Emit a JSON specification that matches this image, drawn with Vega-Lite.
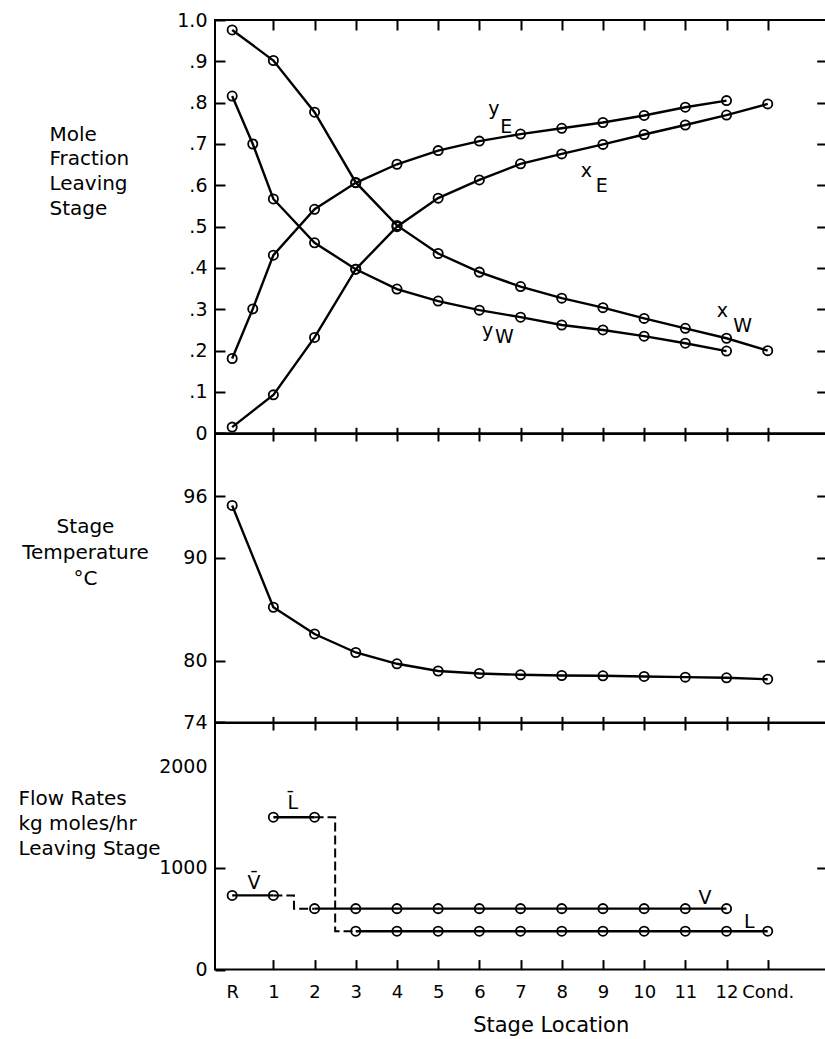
{
  "$schema": "https://vega.github.io/schema/vega-lite/v6.json",
  "background": "white",
  "padding": {"left": 17, "top": 10, "right": 0, "bottom": 0},
  "spacing": 0,
  "bounds": "flush",
  "config": {
    "font": "DejaVu Sans",
    "view": {"stroke": "black", "strokeWidth": 2},
    "axis": {"domain": false, "grid": false, "tickColor": "black", "tickWidth": 2, "labelColor": "black", "labelFont": "DejaVu Sans", "labelFontSize": 19, "labelFlush": false, "titleFont": "DejaVu Sans", "titleColor": "black", "titleFontWeight": "normal", "titleFontSize": 20},
    "line": {"color": "black", "strokeWidth": 2.4},
    "point": {"color": "black", "filled": false, "size": 85, "strokeWidth": 1.8, "opacity": 1},
    "text": {"font": "DejaVu Sans", "fontSize": 19, "color": "black"}
  },
  "datasets": {
    "mole": [
      {"series": "xW", "stage": 0, "frac": 0.976}, {"series": "xW", "stage": 1, "frac": 0.902}, {"series": "xW", "stage": 2, "frac": 0.777}, {"series": "xW", "stage": 3, "frac": 0.607}, {"series": "xW", "stage": 4, "frac": 0.503}, {"series": "xW", "stage": 5, "frac": 0.435}, {"series": "xW", "stage": 6, "frac": 0.390}, {"series": "xW", "stage": 7, "frac": 0.355}, {"series": "xW", "stage": 8, "frac": 0.327}, {"series": "xW", "stage": 9, "frac": 0.304}, {"series": "xW", "stage": 10, "frac": 0.278}, {"series": "xW", "stage": 11, "frac": 0.254}, {"series": "xW", "stage": 12, "frac": 0.230}, {"series": "xW", "stage": 13, "frac": 0.200},
      {"series": "yW", "stage": 0, "frac": 0.816}, {"series": "yW", "stage": 0.5, "frac": 0.700}, {"series": "yW", "stage": 1, "frac": 0.567}, {"series": "yW", "stage": 2, "frac": 0.461}, {"series": "yW", "stage": 3, "frac": 0.397}, {"series": "yW", "stage": 4, "frac": 0.349}, {"series": "yW", "stage": 5, "frac": 0.320}, {"series": "yW", "stage": 6, "frac": 0.298}, {"series": "yW", "stage": 7, "frac": 0.281}, {"series": "yW", "stage": 8, "frac": 0.262}, {"series": "yW", "stage": 9, "frac": 0.250}, {"series": "yW", "stage": 10, "frac": 0.235}, {"series": "yW", "stage": 11, "frac": 0.218}, {"series": "yW", "stage": 12, "frac": 0.199},
      {"series": "yE", "stage": 0, "frac": 0.181}, {"series": "yE", "stage": 0.5, "frac": 0.301}, {"series": "yE", "stage": 1, "frac": 0.431}, {"series": "yE", "stage": 2, "frac": 0.542}, {"series": "yE", "stage": 3, "frac": 0.606}, {"series": "yE", "stage": 4, "frac": 0.651}, {"series": "yE", "stage": 5, "frac": 0.684}, {"series": "yE", "stage": 6, "frac": 0.707}, {"series": "yE", "stage": 7, "frac": 0.724}, {"series": "yE", "stage": 8, "frac": 0.738}, {"series": "yE", "stage": 9, "frac": 0.752}, {"series": "yE", "stage": 10, "frac": 0.769}, {"series": "yE", "stage": 11, "frac": 0.789}, {"series": "yE", "stage": 12, "frac": 0.805},
      {"series": "xE", "stage": 0, "frac": 0.015}, {"series": "xE", "stage": 1, "frac": 0.093}, {"series": "xE", "stage": 2, "frac": 0.232}, {"series": "xE", "stage": 3, "frac": 0.397}, {"series": "xE", "stage": 4, "frac": 0.500}, {"series": "xE", "stage": 5, "frac": 0.569}, {"series": "xE", "stage": 6, "frac": 0.613}, {"series": "xE", "stage": 7, "frac": 0.652}, {"series": "xE", "stage": 8, "frac": 0.676}, {"series": "xE", "stage": 9, "frac": 0.699}, {"series": "xE", "stage": 10, "frac": 0.723}, {"series": "xE", "stage": 11, "frac": 0.746}, {"series": "xE", "stage": 12, "frac": 0.770}, {"series": "xE", "stage": 13, "frac": 0.797}
    ],
    "moleLabels": [
      {"t": "y", "stage": 6.35, "frac": 0.770}, {"t": "E", "stage": 6.65, "frac": 0.727},
      {"t": "x", "stage": 8.60, "frac": 0.620}, {"t": "E", "stage": 8.97, "frac": 0.584},
      {"t": "x", "stage": 11.9, "frac": 0.281}, {"t": "W", "stage": 12.39, "frac": 0.245},
      {"t": "y", "stage": 6.2, "frac": 0.233}, {"t": "W", "stage": 6.61, "frac": 0.219}
    ],
    "temp": [
      {"stage": 0, "temp": 95.1}, {"stage": 1, "temp": 85.2}, {"stage": 2, "temp": 82.6}, {"stage": 3, "temp": 80.8}, {"stage": 4, "temp": 79.7}, {"stage": 5, "temp": 79.0}, {"stage": 6, "temp": 78.76}, {"stage": 7, "temp": 78.63}, {"stage": 8, "temp": 78.56}, {"stage": 9, "temp": 78.53}, {"stage": 10, "temp": 78.47}, {"stage": 11, "temp": 78.4}, {"stage": 12, "temp": 78.34}, {"stage": 13, "temp": 78.2}
    ],
    "flow": [
      {"series": "Vbar", "stage": 0, "flow": 730}, {"series": "Vbar", "stage": 1, "flow": 730},
      {"series": "Lbar", "stage": 1, "flow": 1500}, {"series": "Lbar", "stage": 2, "flow": 1500},
      {"series": "V", "stage": 2, "flow": 600}, {"series": "V", "stage": 3, "flow": 600}, {"series": "V", "stage": 4, "flow": 600}, {"series": "V", "stage": 5, "flow": 600}, {"series": "V", "stage": 6, "flow": 600}, {"series": "V", "stage": 7, "flow": 600}, {"series": "V", "stage": 8, "flow": 600}, {"series": "V", "stage": 9, "flow": 600}, {"series": "V", "stage": 10, "flow": 600}, {"series": "V", "stage": 11, "flow": 600}, {"series": "V", "stage": 12, "flow": 600},
      {"series": "L", "stage": 3, "flow": 378}, {"series": "L", "stage": 4, "flow": 378}, {"series": "L", "stage": 5, "flow": 378}, {"series": "L", "stage": 6, "flow": 378}, {"series": "L", "stage": 7, "flow": 378}, {"series": "L", "stage": 8, "flow": 378}, {"series": "L", "stage": 9, "flow": 378}, {"series": "L", "stage": 10, "flow": 378}, {"series": "L", "stage": 11, "flow": 378}, {"series": "L", "stage": 12, "flow": 378}, {"series": "L", "stage": 13, "flow": 378}
    ],
    "flowStep": [
      {"series": "Vstep", "ord": 1, "stage": 1, "flow": 730}, {"series": "Vstep", "ord": 2, "stage": 1.5, "flow": 730}, {"series": "Vstep", "ord": 3, "stage": 1.5, "flow": 600}, {"series": "Vstep", "ord": 4, "stage": 2, "flow": 600},
      {"series": "Lstep", "ord": 1, "stage": 2, "flow": 1500}, {"series": "Lstep", "ord": 2, "stage": 2.5, "flow": 1500}, {"series": "Lstep", "ord": 3, "stage": 2.5, "flow": 378}, {"series": "Lstep", "ord": 4, "stage": 3, "flow": 378}
    ],
    "flowLabels": [
      {"t": "V̄", "stage": 0.53, "flow": 790},
      {"t": "L̄", "stage": 1.47, "flow": 1578},
      {"t": "V", "stage": 11.48, "flow": 644},
      {"t": "L", "stage": 12.55, "flow": 407}
    ]
  },
  "vconcat": [
    {
      "width": 613.7, "height": 413.3,
      "data": {"name": "mole"},
      "resolve": {"axis": {"x": "independent", "y": "independent"}},
      "layer": [
        {
          "mark": {"type": "line"},
          "encoding": {
            "x": {"field": "stage", "type": "quantitative", "scale": {"domain": [-0.417, 14.48], "nice": false, "zero": false},
                  "axis": {"orient": "bottom", "values": [1,2,3,4,5,6,7,8,9,10,11,12,13], "labels": false, "tickSize": -6, "title": null}},
            "y": {"field": "frac", "type": "quantitative", "scale": {"domain": [0, 1], "nice": false},
                  "axis": {"orient": "left", "values": [0,0.1,0.2,0.3,0.4,0.5,0.6,0.7,0.8,0.9,1], "tickSize": -10, "labelPadding": 18,
                           "labelExpr": "datum.value == 0 ? '0' : datum.value == 1 ? '1.0' : '.' + round(datum.value * 10)",
                           "title": ["Mole", "Fraction", "Leaving", "Stage"], "titleAngle": 0, "titleAlign": "left", "titleBaseline": "top",
                           "titleX": -166, "titleY": 104, "titleLineHeight": 25}},
            "detail": {"field": "series"}
          }
        },
        {
          "mark": {"type": "point"},
          "encoding": {
            "x": {"field": "stage", "type": "quantitative", "scale": {"domain": [-0.417, 14.48], "nice": false, "zero": false},
                  "axis": {"orient": "top", "values": [1,2,3,4,5,6,7,8,9,10,11,12,13], "labels": false, "tickSize": -10, "title": null}},
            "y": {"field": "frac", "type": "quantitative", "scale": {"domain": [0, 1], "nice": false},
                  "axis": {"orient": "right", "values": [0.1,0.2,0.3,0.4,0.5,0.6,0.7,0.8,0.9], "labels": false, "tickSize": -12, "title": null}},
            "detail": {"field": "series"}
          }
        },
        {
          "data": {"name": "moleLabels"},
          "mark": {"type": "text", "baseline": "alphabetic", "fontSize": 19},
          "encoding": {
            "x": {"field": "stage", "type": "quantitative", "axis": null},
            "y": {"field": "frac", "type": "quantitative", "axis": null},
            "text": {"field": "t"}
          }
        }
      ]
    },
    {
      "width": 613.7, "height": 288.4,
      "data": {"name": "temp"},
      "resolve": {"axis": {"x": "independent", "y": "independent"}},
      "layer": [
        {
          "mark": {"type": "line"},
          "encoding": {
            "x": {"field": "stage", "type": "quantitative", "scale": {"domain": [-0.417, 14.48], "nice": false, "zero": false},
                  "axis": {"orient": "bottom", "values": [1,2,3,4,5,6,7,8,9,10,11,12,13], "labels": false, "tickSize": -6, "title": null}},
            "y": {"field": "temp", "type": "quantitative", "scale": {"domain": [74, 102.05], "nice": false, "zero": false},
                  "axis": {"orient": "left", "values": [74, 80, 90, 96], "tickSize": -10, "labelPadding": 18,
                           "title": ["Stage", "Temperature", "°C"], "titleAngle": 0, "titleAlign": "center", "titleBaseline": "top",
                           "titleX": -130, "titleY": 83, "titleLineHeight": 26}}
          }
        },
        {
          "mark": {"type": "point"},
          "encoding": {
            "x": {"field": "stage", "type": "quantitative", "scale": {"domain": [-0.417, 14.48], "nice": false, "zero": false},
                  "axis": {"orient": "top", "values": [1,2,3,4,5,6,7,8,9,10,11,12,13], "labels": false, "tickSize": -7, "title": null}},
            "y": {"field": "temp", "type": "quantitative", "scale": {"domain": [74, 102.05], "nice": false, "zero": false},
                  "axis": {"orient": "right", "values": [80, 90, 96], "labels": false, "tickSize": -12, "title": null}}
          }
        }
      ]
    },
    {
      "width": 613.7, "height": 246.6,
      "data": {"name": "flow"},
      "resolve": {"axis": {"x": "independent", "y": "independent"}},
      "layer": [
        {
          "mark": {"type": "line"},
          "encoding": {
            "x": {"field": "stage", "type": "quantitative", "scale": {"domain": [-0.417, 14.48], "nice": false, "zero": false},
                  "axis": {"orient": "bottom", "values": [0,1,2,3,4,5,6,7,8,9,10,11,12,13], "tickSize": -10,
                           "tickOpacity": {"condition": {"test": "datum.value == 0", "value": 0}, "value": 1},
                           "labelPadding": 24, "labelFontSize": 18,
                           "labelExpr": "datum.value == 0 ? 'R' : datum.value == 13 ? 'Cond.' : '' + datum.value",
                           "title": "Stage Location", "titleFontSize": 21, "titleAlign": "center", "titleBaseline": "top",
                           "titleX": 335.7, "titleY": 45}},
            "y": {"field": "flow", "type": "quantitative", "scale": {"domain": [0, 2427], "nice": false},
                  "axis": {"orient": "left", "values": [0, 1000, 2000], "format": "d", "tickSize": -10, "labelPadding": 18,
                           "tickOpacity": {"condition": {"test": "datum.value == 2000", "value": 0}, "value": 1},
                           "title": ["Flow Rates", "kg moles/hr", "Leaving Stage"], "titleAngle": 0, "titleAlign": "left", "titleBaseline": "top",
                           "titleX": -197, "titleY": 66, "titleLineHeight": 25}},
            "detail": {"field": "series"}
          }
        },
        {
          "mark": {"type": "point"},
          "encoding": {
            "x": {"field": "stage", "type": "quantitative", "scale": {"domain": [-0.417, 14.48], "nice": false, "zero": false},
                  "axis": {"orient": "top", "values": [1,2,3,4,5,6,7,8,9,10,11,12,13], "labels": false, "tickSize": -7, "title": null}},
            "y": {"field": "flow", "type": "quantitative", "scale": {"domain": [0, 2427], "nice": false},
                  "axis": {"orient": "right", "values": [1000], "labels": false, "tickSize": -12, "title": null}},
            "detail": {"field": "series"}
          }
        },
        {
          "data": {"name": "flowStep"},
          "mark": {"type": "line", "strokeDash": [9, 4], "strokeWidth": 2},
          "encoding": {
            "x": {"field": "stage", "type": "quantitative", "axis": null},
            "y": {"field": "flow", "type": "quantitative", "axis": null},
            "detail": {"field": "series"},
            "order": {"field": "ord"}
          }
        },
        {
          "data": {"name": "flowLabels"},
          "mark": {"type": "text", "baseline": "alphabetic", "fontSize": 19},
          "encoding": {
            "x": {"field": "stage", "type": "quantitative", "axis": null},
            "y": {"field": "flow", "type": "quantitative", "axis": null},
            "text": {"field": "t"}
          }
        }
      ]
    }
  ]
}
